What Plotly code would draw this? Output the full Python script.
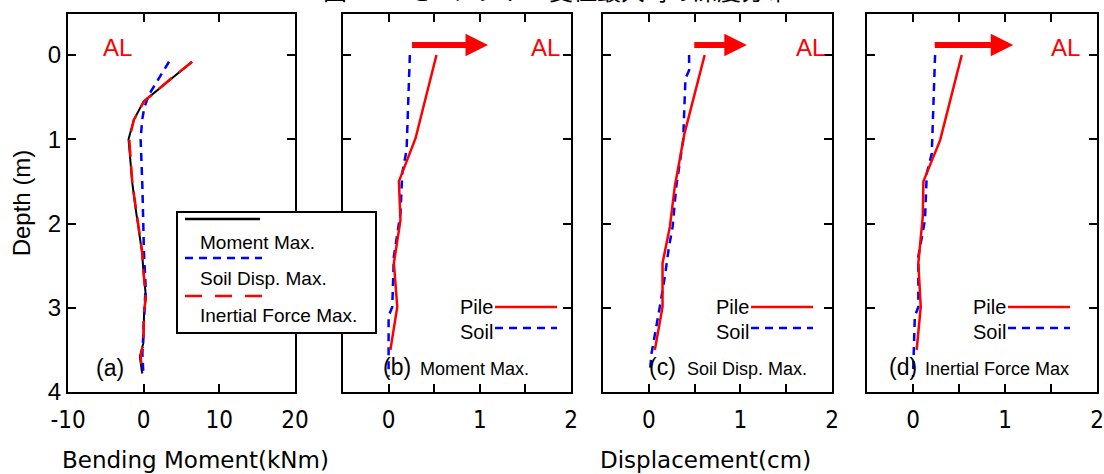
import plotly.graph_objects as go

W, H = 1104, 474

# ---------------- data ----------------
# panel (a): bending moment (kNm) vs depth (m)
moment_depth = [0.08, 0.30, 0.55, 0.77, 1.0, 1.52, 1.8, 2.35, 2.55, 2.87, 3.07, 3.42, 3.58, 3.78]
moment_max = [6.4, 3.35, 0.0, -1.3, -2.0, -1.5, -1.1, -0.2, -0.05, 0.3, 0.05, -0.05, -0.5, -0.2]
inertial_depth = [0.08, 0.30, 0.55, 0.77, 1.0, 1.52, 1.8, 2.35, 2.55, 2.87, 3.07, 3.42, 3.58, 3.78]
inertial_max = [6.4, 3.35, 0.05, -1.3, -1.9, -1.5, -1.05, -0.17, -0.04, 0.26, 0.04, -0.04, -0.4, -0.17]
soil_a_depth = [0.08, 0.30, 0.47, 0.62, 0.77, 1.0, 1.56, 2.35, 2.75, 3.15, 3.54, 3.78]
soil_a_max = [3.35, 1.8, 0.7, 0.1, -0.2, -0.4, -0.17, 0.04, 0.26, 0.04, -0.17, -0.04]

# panel (b): Moment Max. -- displacement (cm)
pile_b_depth = [0.0, 0.99, 1.50, 1.96, 2.47, 2.99, 3.5]
pile_b_disp = [0.525, 0.295, 0.113, 0.13, 0.058, 0.095, 0.02]
soil_b_depth = [0.0, 1.13, 1.40, 1.88, 2.39, 2.99, 3.1, 3.82]
soil_b_disp = [0.233, 0.197, 0.15, 0.13, 0.058, 0.04, 0.0, 0.0]

# panel (c): Soil Disp. Max.
pile_c_depth = [0.0, 0.93, 1.56, 2.04, 2.47, 2.99, 3.5]
pile_c_disp = [0.61, 0.39, 0.284, 0.23, 0.15, 0.15, 0.066]
soil_c_depth = [0.0, 0.18, 0.28, 1.01, 1.56, 2.04, 2.28, 2.63, 2.99, 3.54, 3.78]
soil_c_disp = [0.44, 0.44, 0.40, 0.375, 0.30, 0.26, 0.22, 0.175, 0.12, 0.03, 0.01]

# panel (d): Inertial Force Max.
pile_d_depth = [0.0, 1.01, 1.50, 1.92, 2.47, 2.99, 3.5]
pile_d_disp = [0.53, 0.295, 0.113, 0.106, 0.058, 0.084, 0.04]
soil_d_depth = [0.0, 1.17, 1.40, 1.96, 2.39, 2.99, 3.1, 3.82]
soil_d_disp = [0.24, 0.204, 0.15, 0.13, 0.058, 0.058, 0.02, 0.0]

# arrows (start, tip) in displacement units, at shallow depth
arrow_start = [0.24, 0.48, 0.22]
arrow_tip = [1.09, 1.07, 1.09]
arrow_depth = -0.12

depth_ticks = [0, 1, 2, 3, 4]
moment_ticks = [-10, 0, 10, 20]
moment_ticktext = ["-10", "0", "10", "20"]
disp_ticks = [0, 0.5, 1, 1.5, 2]
disp_ticktext = ["0", "", "1", "", "2"]

title_text = "図-11　モーメント・変位最大時の深度分布"
panel_titles = ["Moment Max.", "Soil Disp. Max.", "Inertial Force Max"]
panel_tags = ["(b)", "(c)", "(d)"]

# ---------------- styles ----------------
RED = "#ff0000"
BLUE = "#0000ff"
BLACK = "#000000"
FONT = "Liberation Sans"
NARROW = "Liberation Sans Narrow, DejaVu Sans Condensed, Liberation Sans"
WIDE = "DejaVu Sans"


def px(x):
    return x / W


def py(y):
    return 1 - y / H


domains = [(68, 295), (343, 571), (603, 832), (867, 1097)]
ytop, ybot = 14, 392

fig = go.Figure()

# panel (a)
fig.add_trace(go.Scatter(x=moment_max, y=moment_depth, mode="lines",
                         line=dict(color=BLACK, width=2), xaxis="x", yaxis="y",
                         showlegend=False))
fig.add_trace(go.Scatter(x=soil_a_max, y=soil_a_depth, mode="lines",
                         line=dict(color=BLUE, width=2.5, dash="8px,6px"), xaxis="x", yaxis="y",
                         showlegend=False))
fig.add_trace(go.Scatter(x=inertial_max, y=inertial_depth, mode="lines",
                         line=dict(color=RED, width=2.5, dash="17px,9px"), xaxis="x", yaxis="y",
                         showlegend=False))

panels = [
    (soil_b_disp, soil_b_depth, pile_b_disp, pile_b_depth),
    (soil_c_disp, soil_c_depth, pile_c_disp, pile_c_depth),
    (soil_d_disp, soil_d_depth, pile_d_disp, pile_d_depth),
]
for i, (sx, sy, pxv, pyv) in enumerate(panels):
    ax = "x%d" % (i + 2)
    ay = "y%d" % (i + 2)
    fig.add_trace(go.Scatter(x=sx, y=sy, mode="lines",
                             line=dict(color=BLUE, width=2.5, dash="8px,6px"),
                             xaxis=ax, yaxis=ay, showlegend=False))
    fig.add_trace(go.Scatter(x=pxv, y=pyv, mode="lines",
                             line=dict(color=RED, width=2.5),
                             xaxis=ax, yaxis=ay, showlegend=False))

axis_common = dict(showline=True, linecolor=BLACK, linewidth=2, mirror="ticks",
                   ticks="inside", ticklen=8, tickwidth=2, tickcolor=BLACK,
                   showgrid=False, zeroline=False, fixedrange=True, automargin=False)

layout = dict(width=W, height=H, margin=dict(l=0, r=0, t=0, b=0, autoexpand=False),
              paper_bgcolor="white", plot_bgcolor="white", showlegend=False)

for i, (x0, x1) in enumerate(domains):
    sfx = "" if i == 0 else str(i + 1)
    xa = dict(axis_common, domain=[px(x0), px(x1)], anchor="y" + sfx,
              ticklabelstandoff=5,
              tickfont=dict(family=NARROW, size=24, color=BLACK))
    if i == 0:
        xa.update(range=[-10, 20], tickvals=moment_ticks, ticktext=moment_ticktext)
    else:
        xa.update(range=[-0.5, 2], tickvals=disp_ticks, ticktext=disp_ticktext)
    ya = dict(axis_common, domain=[py(ybot), py(ytop)], anchor="x" + sfx,
              range=[4, -0.487], tickvals=depth_ticks,
              tickfont=dict(family=FONT, size=24, color=BLACK))
    if i == 0:
        ya.update(title=dict(text="Depth (m)", font=dict(family=FONT, size=24, color=BLACK),
                             standoff=10))
    else:
        ya.update(showticklabels=False)
    layout["xaxis" + sfx] = xa
    layout["yaxis" + sfx] = ya

fig.update_layout(**layout)

ann = []
shapes = []

# title (clipped at the top of the page)
ann.append(dict(text=title_text, x=px(556), y=py(9), xref="paper", yref="paper",
                xanchor="center", yanchor="bottom", showarrow=False,
                font=dict(family="Noto Sans CJK JP", size=24, color=BLACK)))

# AL labels
for xc in [117, 545, 810, 1065]:
    ann.append(dict(text="AL", x=px(xc), y=py(47), xref="paper", yref="paper",
                    xanchor="center", yanchor="middle", showarrow=False,
                    font=dict(family=FONT, size=24, color=RED)))

# arrows
for i in range(3):
    ax = "x%d" % (i + 2)
    ay = "y%d" % (i + 2)
    ann.append(dict(x=arrow_tip[i], y=arrow_depth, ax=arrow_start[i], ay=arrow_depth,
                    xref=ax, yref=ay, axref=ax, ayref=ay, text="", showarrow=True,
                    arrowhead=2, arrowsize=0.75, arrowwidth=6, arrowcolor=RED))

# panel (a) label
ann.append(dict(text="(a)", x=px(110), y=py(368), xref="paper", yref="paper",
                xanchor="center", yanchor="middle", showarrow=False,
                font=dict(family=FONT, size=23, color=BLACK)))

# panel tags (b)-(d)
tag_x = [381, 647, 887]
title_x = [418, 685, 923]
for i in range(3):
    ann.append(dict(text=panel_tags[i], x=px(tag_x[i]), y=py(367), xref="paper", yref="paper",
                    xanchor="left", yanchor="middle", showarrow=False,
                    font=dict(family=FONT, size=23, color=BLACK)))
    ann.append(dict(text=panel_titles[i], x=px(title_x[i]), y=py(369), xref="paper", yref="paper",
                    xanchor="left", yanchor="middle", showarrow=False,
                    font=dict(family=FONT, size=18, color=BLACK)))

# Pile / Soil legends
leg_x = [495, 751, 1008]
for i in range(3):
    x0 = leg_x[i]
    ann.append(dict(text="Pile", x=px(x0), y=py(307), xref="paper", yref="paper",
                    xanchor="right", yanchor="middle", showarrow=False,
                    font=dict(family=FONT, size=20, color=BLACK)))
    ann.append(dict(text="Soil", x=px(x0), y=py(332), xref="paper", yref="paper",
                    xanchor="right", yanchor="middle", showarrow=False,
                    font=dict(family=FONT, size=20, color=BLACK)))
    shapes.append(dict(type="line", xref="paper", yref="paper", x0=px(x0), x1=px(x0 + 62),
                       y0=py(307), y1=py(307), line=dict(color=RED, width=2.5)))
    shapes.append(dict(type="line", xref="paper", yref="paper", x0=px(x0), x1=px(x0 + 62),
                       y0=py(328), y1=py(328), line=dict(color=BLUE, width=2.5, dash="8px,6px")))

# legend box of panel (a)
shapes.append(dict(type="rect", xref="paper", yref="paper", x0=px(177), x1=px(376),
                   y0=py(333), y1=py(212), fillcolor="white", line=dict(color=BLACK, width=2)))
shapes.append(dict(type="line", xref="paper", yref="paper", x0=px(185), x1=px(260),
                   y0=py(219), y1=py(219), line=dict(color=BLACK, width=2.5)))
shapes.append(dict(type="line", xref="paper", yref="paper", x0=px(185), x1=px(262),
                   y0=py(258), y1=py(258), line=dict(color=BLUE, width=2.5, dash="8px,6px")))
shapes.append(dict(type="line", xref="paper", yref="paper", x0=px(185), x1=px(262),
                   y0=py(296), y1=py(296), line=dict(color=RED, width=2.5, dash="17px,13px")))
for txt, yc in [("Moment Max.", 243), ("Soil Disp. Max.", 278), ("Inertial Force Max.", 315)]:
    ann.append(dict(text=txt, x=px(198), y=py(yc), xref="paper", yref="paper",
                    xanchor="left", yanchor="middle", showarrow=False,
                    font=dict(family=FONT, size=19, color=BLACK)))

# bottom axis labels
ann.append(dict(text="Bending Moment(kNm)", x=px(195), y=py(460), xref="paper", yref="paper",
                xanchor="center", yanchor="middle", showarrow=False,
                font=dict(family=WIDE, size=23, color=BLACK)))
ann.append(dict(text="Displacement(cm)", x=px(705), y=py(460), xref="paper", yref="paper",
                xanchor="center", yanchor="middle", showarrow=False,
                font=dict(family=WIDE, size=23, color=BLACK)))

fig.update_layout(annotations=ann, shapes=shapes)

fig.write_html("out.html")
